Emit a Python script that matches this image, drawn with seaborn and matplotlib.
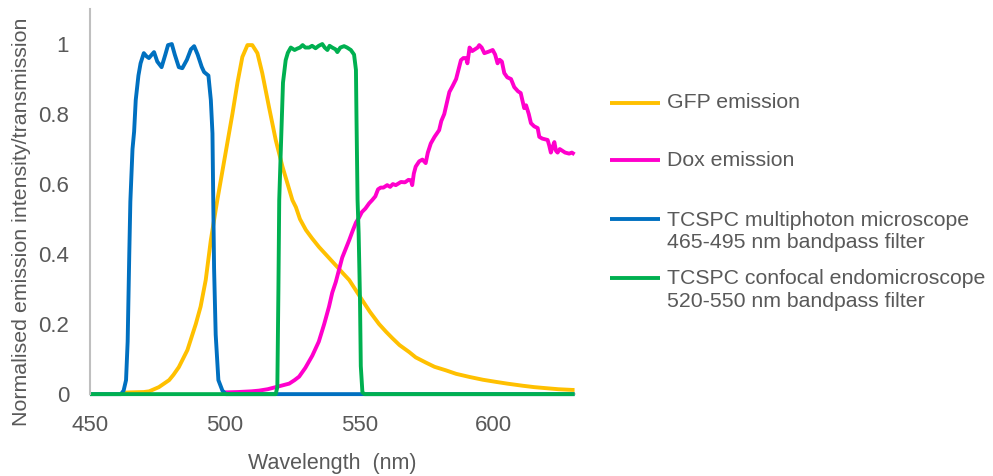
import numpy as np
import pandas as pd
import matplotlib
matplotlib.use("Agg")
import matplotlib.pyplot as plt
import seaborn as sns
from matplotlib.lines import Line2D

# ---------------- data ----------------
gfp_wl = [462, 465, 470, 472, 475.6, 479.4, 481, 483, 486.2, 489.3, 491.1, 493, 494.9, 496.7, 497.3,
          500.4, 502.9, 504.8, 506.6, 508.5, 510.3, 512.2, 514, 516.5, 519, 521.5, 525.2, 526.5, 528,
          530.2, 532.5, 535.1, 538.8, 541.9, 544, 546.3, 551, 554, 557.4, 560, 562.3, 565, 568.6, 571,
          574.8, 578, 582.2, 586, 591, 596, 600.8, 605, 610.7, 615, 619.4, 624, 629.2, 630]
gfp_val = [0.004, 0.005, 0.006, 0.008, 0.02, 0.04, 0.055, 0.077, 0.126, 0.2, 0.25, 0.326, 0.44, 0.526, 0.554,
           0.69, 0.80, 0.89, 0.963, 0.997, 0.997, 0.974, 0.917, 0.82, 0.726, 0.65, 0.554, 0.534, 0.5,
           0.469, 0.445, 0.42, 0.389, 0.363, 0.345, 0.326, 0.27, 0.235, 0.2, 0.178, 0.16, 0.14, 0.12, 0.105,
           0.09, 0.078, 0.068, 0.058, 0.049, 0.041, 0.035, 0.03, 0.024, 0.02, 0.017, 0.014, 0.012, 0.012]

dox_wl = [499, 500.4, 505, 510, 512.8, 516, 519, 521.5, 524, 526, 527.7, 530, 532.6, 535, 537, 538.8, 540,
          541.3, 542.5, 543.7, 545, 546.3, 547.5, 548.8, 550, 551, 552.3, 553.7, 554.8, 556, 557, 558, 559,
          560.4, 561.5, 562.5, 563.6, 565.5, 567, 568.3, 569.2, 569.7, 570.3, 571, 572.3, 573.5, 574.7,
          575.5, 576.6, 578, 579.7, 580.5, 581.6, 582.5, 583.5, 584.7, 586, 587, 587.8, 588.7, 589.7,
          590.2, 591, 592, 593, 594, 594.6, 595.5, 596.5, 598, 599.6, 600.5, 601.4, 602.2, 603, 603.9,
          605, 606.4, 607.6, 609, 610, 610.6, 611.3, 612, 613, 613.8, 615, 616.3, 616.9, 618, 620, 620.6,
          621.2, 621.8, 622.5, 623.1, 623.7, 624.5, 625.5, 626.5, 628, 629, 630]
dox_val = [0.004, 0.005, 0.006, 0.008, 0.01, 0.014, 0.02, 0.025, 0.03, 0.04, 0.05, 0.075, 0.11, 0.15, 0.2,
           0.25, 0.29, 0.32, 0.355, 0.39, 0.415, 0.44, 0.465, 0.49, 0.505, 0.52, 0.53, 0.545, 0.554, 0.565,
           0.585, 0.59, 0.59, 0.597, 0.592, 0.6, 0.597, 0.606, 0.605, 0.612, 0.611, 0.597, 0.63, 0.65,
           0.665, 0.67, 0.66, 0.69, 0.716, 0.735, 0.754, 0.78, 0.80, 0.83, 0.863, 0.88, 0.90, 0.93, 0.954,
           0.96, 0.96, 0.945, 0.99, 0.98, 0.985, 0.99, 0.997, 0.99, 0.974, 0.978, 0.983, 0.97, 0.945,
           0.955, 0.95, 0.917, 0.905, 0.90, 0.877, 0.865, 0.86, 0.84, 0.817, 0.825, 0.80, 0.774, 0.765,
           0.76, 0.735, 0.73, 0.726, 0.71, 0.69, 0.705, 0.72, 0.695, 0.69, 0.70, 0.695, 0.69, 0.687,
           0.69, 0.685]

mp_wl = [450, 460, 461.5, 462.5, 463.4, 464, 464.6, 465, 465.8, 466.4, 467, 468, 468.8, 470, 471, 471.9,
         473, 473.8, 475, 476.6, 478, 479, 480.4, 481.5, 483, 484.3, 486, 487.5, 488.7, 490, 491.5, 492.4,
         494, 494.9, 495.5, 495.8, 496.1, 496.7, 497.7, 499.2, 500.5, 630]
mp_val = [0, 0, 0, 0.01, 0.04, 0.15, 0.4, 0.55, 0.70, 0.75, 0.84, 0.91, 0.945, 0.974, 0.965, 0.96,
          0.97, 0.977, 0.95, 0.934, 0.97, 0.997, 1.0, 0.97, 0.934, 0.931, 0.955, 0.985, 0.994, 0.97, 0.935,
          0.92, 0.91, 0.84, 0.745, 0.55, 0.36, 0.17, 0.04, 0.01, 0, 0]

cf_wl = [450, 519, 519.6, 520, 520.3, 520.9, 521.7, 522.7, 523.5, 524.6, 526, 527, 528, 529, 530, 531.4,
         532.5, 533.8, 535, 536.3, 537.2, 538.2, 539, 540, 541.2, 541.9, 543, 544.4, 545.5, 546.9, 548.1,
         548.8, 549, 549.4, 549.8, 550.3, 550.6, 551.2, 552, 630]
cf_val = [0, 0, 0.02, 0.3, 0.554, 0.70, 0.89, 0.954, 0.975, 0.99, 0.983, 0.987, 0.99, 0.997, 0.99, 0.99,
          0.995, 0.988, 0.995, 1.0, 0.99, 0.983, 0.995, 0.99, 0.985, 0.977, 0.99, 0.994, 0.99, 0.983, 0.97,
          0.926, 0.79, 0.554, 0.46, 0.27, 0.08, 0.005, 0, 0]

labels = ["GFP emission",
          "Dox emission",
          "TCSPC multiphoton microscope\n465-495 nm bandpass filter",
          "TCSPC confocal endomicroscope\n520-550 nm bandpass filter"]
colors = ["#FFC000", "#FF00CC", "#0070C0", "#00B050"]
x_ticks = [450, 500, 550, 600]
y_ticks = [0, 0.2, 0.4, 0.6, 0.8, 1]
y_tick_labels = ["0", "0.2", "0.4", "0.6", "0.8", "1"]

# ---------------- plotting ----------------
sns.set_theme(style="white")
plt.rcParams["font.family"] = ["Liberation Sans", "DejaVu Sans"]
TXT = "#595959"
LW = 2.8

fig = plt.figure(figsize=(9.93, 4.76), dpi=100)
ax = fig.add_axes([0.0906, 0.172, 0.488, 0.809])

series = [(gfp_wl, gfp_val), (dox_wl, dox_val), (mp_wl, mp_val), (cf_wl, cf_val)]
for (wl, val), lab, col in zip(series, labels, colors):
    df = pd.DataFrame({"Wavelength": wl, "Value": val})
    sns.lineplot(data=df, x="Wavelength", y="Value", ax=ax, color=col, linewidth=LW,
                 legend=False, estimator=None, sort=False, solid_joinstyle="round",
                 solid_capstyle="butt", clip_on=False)

ax.set_xlim(450, 630)
ax.set_ylim(0, 1.1)
ax.set_xticks(x_ticks)
ax.set_yticks(y_ticks)
ax.set_yticklabels(y_tick_labels)
ax.tick_params(axis="x", length=0, labelsize=16, colors=TXT, pad=15)
ax.tick_params(axis="y", length=0, labelsize=16, colors=TXT, pad=15)
ax.set_xlabel("Wavelength  (nm)", fontsize=15.5, color=TXT, labelpad=12)
ax.set_ylabel("Normalised emission intensity/transmission", fontsize=15.4, color=TXT)
ax.yaxis.set_label_coords(-0.122, 0.447)
for s in ["top", "right"]:
    ax.spines[s].set_visible(False)
ax.spines["left"].set_color("#BFBFBF")
ax.spines["left"].set_linewidth(1.5)
ax.spines["bottom"].set_color("#D9D9D9")
ax.spines["bottom"].set_zorder(0)
ax.grid(False)

# ---------------- legend (drawn at the reference's positions) ----------------
W, H = 993.0, 476.0
handle_y = [102.7, 160, 219, 278]
text_y = [102.7, 160, 231.5, 290]
for col, lab, hy, ty in zip(colors, labels, handle_y, text_y):
    fig.add_artist(Line2D([610 / W, 660 / W], [1 - hy / H, 1 - hy / H], transform=fig.transFigure,
                          color=col, linewidth=LW, solid_capstyle="butt"))
    fig.text(667 / W, 1 - ty / H, lab, fontsize=15.3, color=TXT, va="center", ha="left",
             linespacing=1.22)

fig.savefig("out.png", dpi=100)
